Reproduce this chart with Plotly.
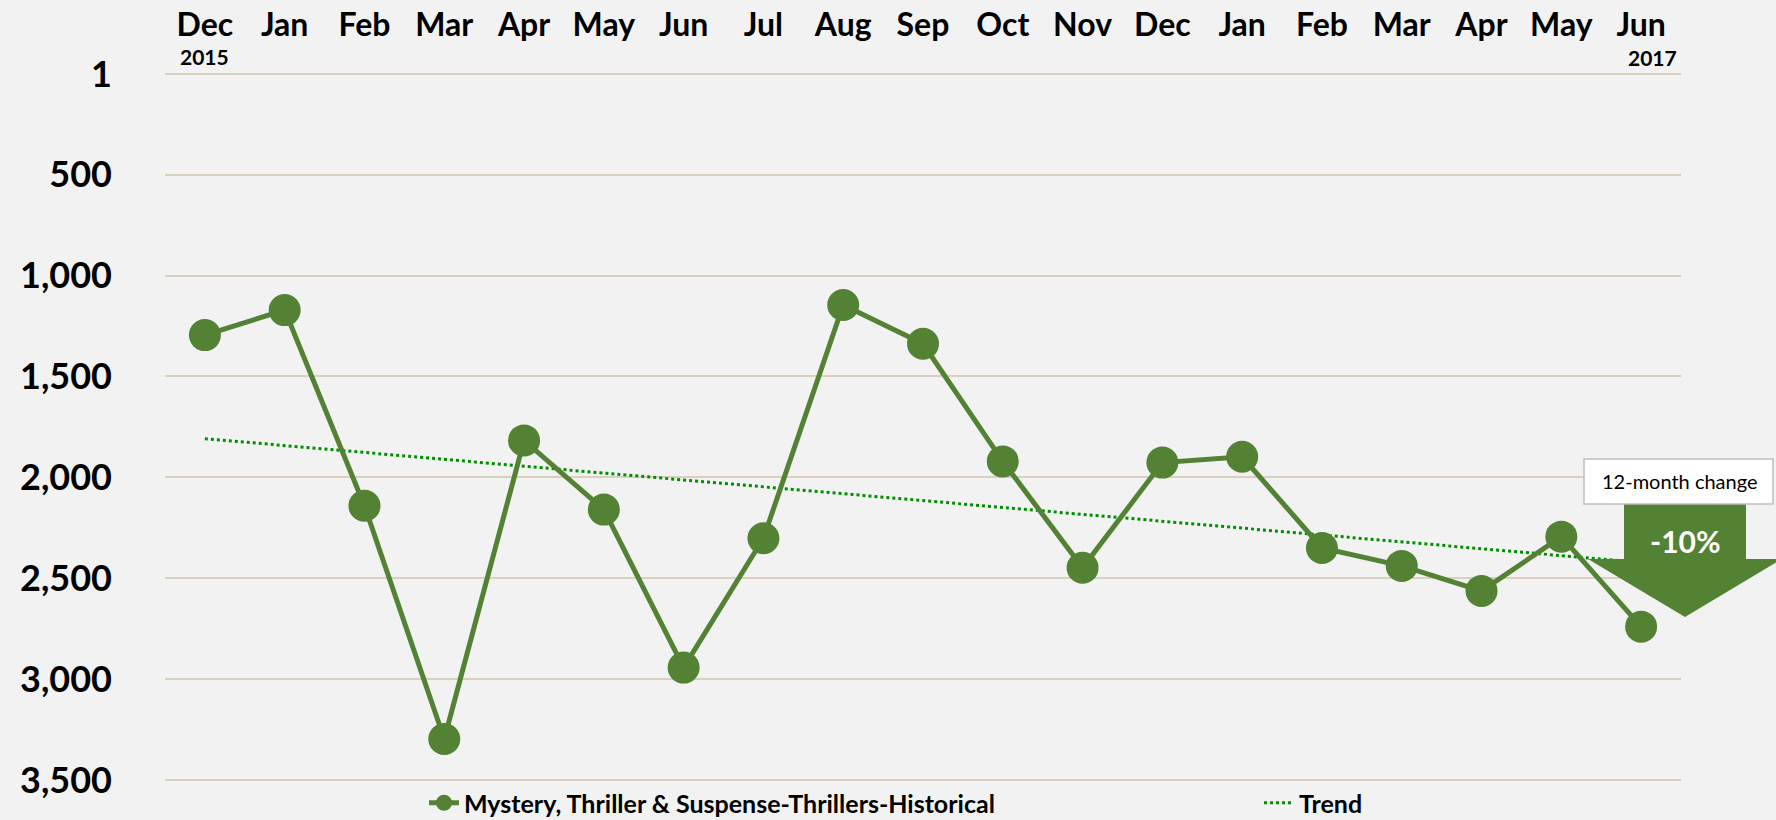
import numpy as np
import plotly.graph_objects as go

months = ["Dec", "Jan", "Feb", "Mar", "Apr", "May", "Jun", "Jul", "Aug", "Sep",
          "Oct", "Nov", "Dec", "Jan", "Feb", "Mar", "Apr", "May", "Jun"]
rank = [1295, 1171, 2141, 3297, 1817, 2160, 2943, 2302, 1146, 1338,
        1921, 2448, 1927, 1898, 2350, 2439, 2563, 2294, 2740]
y_ticks = [1, 500, 1000, 1500, 2000, 2500, 3000, 3500]
y_ticktext = ["1", "500", "1,000", "1,500", "2,000", "2,500", "3,000", "3,500"]
series_name = "Mystery, Thriller & Suspense-Thrillers-Historical"
change_label = "-10%"

x_idx = list(range(len(months)))
coef = np.polyfit(x_idx, rank, 1)
trend = np.polyval(coef, x_idx)

W, H = 1776, 820
PL, PR, PT, PB = 165, 1681, 72, 782  # plot area in page pixels
L, T = PL, PT
R, B = W - PR, H - PB
PW, PH = PR - PL, PB - PT

def px(x):
    return (x - PL) / PW

def py(y):
    return (PB - y) / PH

FONT = "Lato"
GREEN = "#548235"

fig = go.Figure()
fig.add_trace(go.Scatter(
    x=x_idx, y=trend, mode="lines", name="Trend",
    line=dict(color="#008f00", width=3, dash="3px,3px"),
    legend="legend2"))
fig.add_trace(go.Scatter(
    x=x_idx, y=rank, mode="lines+markers", name=series_name,
    line=dict(color=GREEN, width=5),
    marker=dict(color=GREEN, size=32),
    cliponaxis=False, legend="legend"))

arrow = [(1624, 504), (1746, 504), (1746, 559), (1782, 559), (1685, 617),
         (1588, 559), (1624, 559)]
path = "M " + " L ".join(f"{px(a):.5f},{py(b):.5f}" for a, b in arrow) + " Z"

fig.update_layout(
    width=W, height=H,
    margin=dict(l=L, r=R, t=T, b=B, autoexpand=False),
    paper_bgcolor="#f2f2f2", plot_bgcolor="#f2f2f2",
    font=dict(family=FONT, color="black"),
    xaxis=dict(side="top", range=[-0.5, 18.5], tickvals=x_idx, ticktext=months,
               showgrid=False, zeroline=False, showline=False, ticks="",
               tickfont=dict(family=FONT, size=32, weight="bold", color="black"),
               ticklabelstandoff=29),
    yaxis=dict(range=[3510, -9], tickvals=y_ticks, ticktext=y_ticktext,
               showgrid=True, gridcolor="#d9d1bd", gridwidth=1.5,
               zeroline=False, showline=False, ticks="",
               tickfont=dict(family=FONT, size=36, weight="bold", color="black"),
               ticklabelstandoff=52),
    showlegend=True,
    legend=dict(orientation="h", x=px(424), y=py(803), xanchor="left", yanchor="middle",
                bgcolor="rgba(0,0,0,0)",
                font=dict(family=FONT, size=25, weight="bold", color="black")),
    legend2=dict(orientation="h", x=px(1259), y=py(803), xanchor="left", yanchor="middle",
                 bgcolor="rgba(0,0,0,0)",
                 font=dict(family=FONT, size=25, weight="bold", color="black")),
    shapes=[
        dict(type="path", xref="paper", yref="paper", path=path,
             fillcolor=GREEN, line=dict(width=0), layer="above"),
        dict(type="rect", xref="paper", yref="paper",
             x0=px(1584), x1=px(1773), y0=py(504), y1=py(459),
             fillcolor="white", line=dict(color="#bfbfbf", width=1.5), layer="above"),
    ],
    annotations=[
        dict(text="2015", xref="x", yref="paper", x=0, y=py(56), showarrow=False,
             xanchor="center", yanchor="middle",
             font=dict(family=FONT, size=21, weight="bold", color="black")),
        dict(text="2017", xref="paper", yref="paper", x=px(1679), y=py(57), showarrow=False,
             xanchor="right", yanchor="middle",
             font=dict(family=FONT, size=21, weight="bold", color="black")),
        dict(text="12-month change", xref="paper", yref="paper", x=px(1680), y=py(481),
             showarrow=False, xanchor="center", yanchor="middle",
             font=dict(family=FONT, size=20, color="black")),
        dict(text=change_label, xref="paper", yref="paper", x=px(1685), y=py(541),
             showarrow=False, xanchor="center", yanchor="middle",
             font=dict(family=FONT, size=30, weight="bold", color="white")),
    ],
)

fig.write_html("out.html",
               config={"displayModeBar": False},
               post_script="document.body.style.margin='0';document.body.style.overflow='hidden';")
